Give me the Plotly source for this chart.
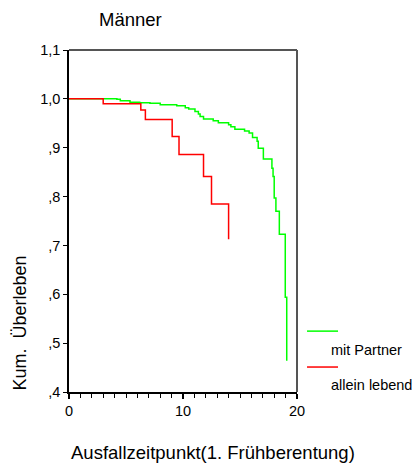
import plotly.graph_objects as go

# Data (Kaplan-Meier step curves)
partner_time = [0, 4.2, 4.5, 5.35, 6.2, 7.1, 8.0, 9.45, 10.2, 10.5, 11.05, 11.35, 11.5, 11.8,
                12.65, 13.1, 14.0, 14.2, 14.55, 15.4, 15.8, 16.1, 16.5, 16.6, 17.05, 17.8,
                17.9, 18.0, 18.15, 18.45, 18.97, 19.1]
partner_surv = [1.0, 0.999, 0.996, 0.993, 0.992, 0.991, 0.988, 0.986, 0.982, 0.979, 0.974,
                0.969, 0.964, 0.959, 0.955, 0.951, 0.947, 0.943, 0.938, 0.934, 0.930, 0.921,
                0.913, 0.899, 0.877, 0.858, 0.841, 0.797, 0.770, 0.723, 0.594, 0.464]

alone_time = [0, 3.0, 6.3, 6.7, 9.05, 9.65, 11.8, 12.5, 14.0]
alone_surv = [1.0, 0.99, 0.977, 0.958, 0.923, 0.886, 0.841, 0.785, 0.7125]

y_tickvals = [0.4, 0.5, 0.6, 0.7, 0.8, 0.9, 1.0, 1.1]
y_ticktext = [",4", ",5", ",6", ",7", ",8", ",9", "1,0", "1,1"]
x_tickvals = [0, 10, 20]

legend_names = ["mit Partner", "allein lebend"]
colors = ["#00ff00", "#ff0000"]

FONT = "Liberation Sans, Arial, sans-serif"

fig = go.Figure()
fig.add_trace(go.Scatter(x=partner_time, y=partner_surv, mode="lines", line_shape="hv",
                         line=dict(color=colors[0], width=1.5), showlegend=False))
fig.add_trace(go.Scatter(x=alone_time, y=alone_surv, mode="lines", line_shape="hv",
                         line=dict(color=colors[1], width=1.5), showlegend=False))

fig.update_layout(
    width=414, height=463,
    margin=dict(l=69, r=117, t=50, b=71),
    paper_bgcolor="white", plot_bgcolor="white",
    font=dict(family=FONT, color="black", size=14.5),
    showlegend=False,
    xaxis=dict(range=[0, 20], tickvals=x_tickvals, ticks="outside", ticklen=5,
               tickwidth=1.5, tickcolor="black", showline=True, linecolor="black",
               linewidth=1.5, showgrid=False, zeroline=False,
               tickfont=dict(size=14.5),
               minor=dict(dtick=1, ticks="outside", ticklen=4, tickcolor="black",
                          tickwidth=1, showgrid=False)),
    yaxis=dict(range=[0.4, 1.1], tickvals=y_tickvals, ticktext=y_ticktext,
               ticks="outside", ticklen=4, tickcolor="black", tickwidth=1,
               showline=True, linecolor="black", linewidth=1.5, showgrid=False,
               zeroline=False, tickfont=dict(size=14.5)),
)

# top/right frame (grey)
fig.add_shape(type="line", xref="paper", yref="paper", x0=0, x1=1, y0=1, y1=1,
              line=dict(color="#555555", width=2))
fig.add_shape(type="line", xref="paper", yref="paper", x0=1, x1=1, y0=0, y1=1,
              line=dict(color="#555555", width=2))

# titles
fig.add_annotation(text="Männer", xref="paper", yref="paper", x=0.123, y=1.088,
                   xanchor="left", yanchor="middle", showarrow=False,
                   font=dict(size=18.5))
fig.add_annotation(text="Ausfallzeitpunkt(1. Frühberentung)", xref="paper", yref="paper",
                   x=0.632, y=-0.178, xanchor="center", yanchor="middle", showarrow=False,
                   font=dict(size=18.5))
fig.add_annotation(text="Kum. \u00a0Überleben", xref="paper", yref="paper",
                   x=-0.215, y=0.0, xanchor="center", yanchor="bottom", textangle=-90,
                   showarrow=False, font=dict(size=18))

# custom legend
leg_line_y = [0.178, 0.073]
leg_text_y = [0.123, 0.020]
for i in range(2):
    fig.add_shape(type="line", xref="paper", yref="paper", x0=1.044, x1=1.18,
                  y0=leg_line_y[i], y1=leg_line_y[i], line=dict(color=colors[i], width=1.5))
    fig.add_annotation(text=legend_names[i], xref="paper", yref="paper", x=1.14,
                       y=leg_text_y[i], xanchor="left", yanchor="middle", showarrow=False,
                       font=dict(size=14.5))

fig.write_html("out.html", config={"displayModeBar": False},
               post_script="document.body.style.margin='0';document.body.style.overflow='hidden';")
